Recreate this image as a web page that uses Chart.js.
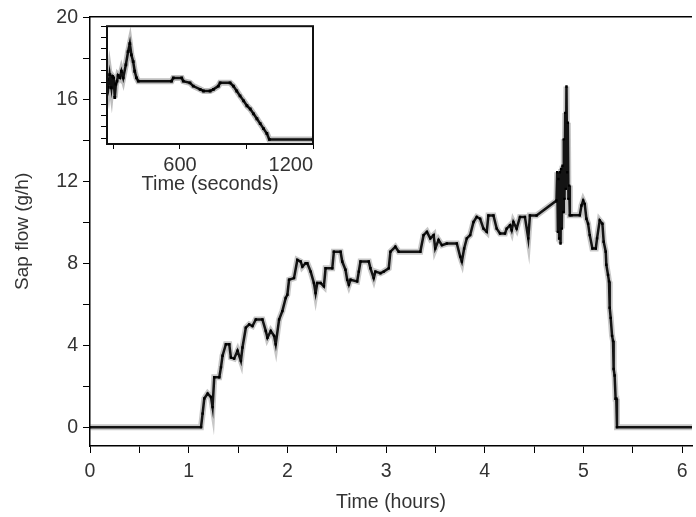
<!DOCTYPE html>
<html>
<head>
<meta charset="utf-8">
<script src="https://cdn.jsdelivr.net/npm/chart.js@4.4.0/dist/chart.umd.min.js"></script>
<style>
body { margin: 0; background: #fff; }
#wrap { position: relative; width: 696px; height: 517px; }
#mainChart { position: absolute; left: 0; top: 0; }
#insetChart { position: absolute; left: 96px; top: 16px; }
</style>
</head>
<body>
<div id="wrap">
<canvas id="mainChart" width="696" height="517"></canvas>
<canvas id="insetChart" width="240" height="190"></canvas>
</div>
<script>
// main trace
const hours = [0, 1.125, 1.141, 1.158, 1.192, 1.226, 1.242, 1.259, 1.310, 1.327, 1.343, 1.377, 1.411, 1.428, 1.461, 1.495,
  1.529, 1.545, 1.579, 1.613, 1.646, 1.680, 1.747, 1.781, 1.798, 1.832, 1.865, 1.882, 1.916, 1.949, 1.983, 2.000,
  2.017, 2.067, 2.101, 2.135, 2.152, 2.185, 2.202, 2.236, 2.269, 2.286, 2.303, 2.337, 2.370, 2.387, 2.455, 2.471,
  2.539, 2.556, 2.589, 2.606, 2.623, 2.640, 2.707, 2.724, 2.741, 2.825, 2.842, 2.875, 2.892, 2.943, 2.976, 3.027,
  3.044, 3.094, 3.128, 3.347, 3.380, 3.414, 3.448, 3.482, 3.498, 3.532, 3.566, 3.616, 3.717, 3.751, 3.768, 3.791,
  3.818, 3.852, 3.886, 3.919, 3.953, 3.987, 4.020, 4.037, 4.088, 4.121, 4.155, 4.205, 4.222, 4.256, 4.273, 4.290,
  4.323, 4.357, 4.407, 4.441, 4.458, 4.525, 4.727, 4.734, 4.741, 4.747, 4.754, 4.761, 4.768, 4.774, 4.781, 4.788,
  4.795, 4.801, 4.808, 4.815, 4.821, 4.828, 4.835, 4.842, 4.848, 4.855, 4.862, 4.879, 4.963, 4.980, 4.997, 5.013,
  5.030, 5.047, 5.064, 5.091, 5.125, 5.138, 5.165, 5.192, 5.205, 5.226, 5.232, 5.249, 5.259, 5.266, 5.276, 5.290,
  5.300, 5.306, 5.316, 5.326, 5.333, 5.340, 6.2]
const sapFlow = [0, 0, 0.66, 1.40, 1.64, 1.47, 0.98, 2.44, 2.44, 2.92, 3.49, 4.05, 4.05, 3.40, 3.35, 3.73,
  3.24, 3.89, 4.86, 5.02, 4.94, 5.26, 5.26, 4.70, 4.37, 4.70, 4.46, 4.05, 5.26, 5.67, 6.31, 6.47,
  7.20, 7.28, 8.17, 8.09, 7.84, 8.01, 8.01, 7.60, 7.04, 6.55, 7.04, 7.04, 6.88, 7.76, 7.76, 8.57,
  8.57, 8.09, 7.69, 7.20, 6.96, 7.20, 7.12, 7.60, 8.09, 8.09, 7.76, 7.28, 7.60, 7.52, 7.60, 7.76,
  8.57, 8.81, 8.57, 8.57, 9.38, 9.54, 9.22, 9.38, 8.73, 9.14, 8.89, 8.97, 8.97, 8.33, 8.09, 8.73,
  9.22, 9.38, 10.02, 10.27, 10.18, 9.70, 9.54, 10.34, 10.34, 9.70, 9.46, 9.46, 9.70, 9.86, 9.62, 10.02,
  9.70, 10.27, 10.27, 9.22, 10.34, 10.34, 11.07, 12.45, 9.54, 12.12, 9.22, 12.45, 8.97, 12.61, 9.70, 12.77,
  10.51, 14.06, 11.15, 15.35, 11.64, 16.64, 12.45, 14.87, 11.15, 11.80, 10.35, 10.35, 10.35, 10.83, 11.07, 10.90,
  10.18, 9.94, 9.38, 8.73, 8.73, 9.22, 10.10, 9.94, 9.06, 8.57, 7.93, 7.44, 7.12, 5.83, 5.34, 4.46,
  4.21, 2.84, 2.52, 1.39, 1.39, 0, 0]

// inset trace (its y axis has no labels, values in tick steps)
const insetSeconds = [271, 277, 283, 291, 296, 301, 306, 311, 316, 321, 329, 336, 344, 356, 366, 374, 381, 389, 396, 404,
  412, 562, 570, 608, 615, 645, 660, 691, 706, 736, 751, 773, 781, 826, 841, 856, 871, 887, 902, 917,
  932, 947, 962, 977, 992, 1003, 1200]
const insetFlow = [5.23, 4.53, 5.67, 4.50, 5.51, 5.38, 3.63, 4.82, 5.09, 5.60, 5.41, 5.97, 5.38, 6.55, 7.72, 8.45, 7.43, 6.84, 5.97, 5.38,
  5.09, 5.09, 5.38, 5.38, 5.09, 4.94, 4.65, 4.36, 4.21, 4.21, 4.36, 4.65, 4.94, 4.94, 4.65, 4.21, 3.77, 3.33, 2.89, 2.60,
  2.17, 1.73, 1.29, 0.84, 0.41, -0.12, -0.12]

const hourLabels = [0, 1, 2, 3, 4, 5, 6]
const flowLabels = [0, 4, 8, 12, 16, 20]
const secondTicks = [300, 600, 900, 1200]
const secondLabels = [600, 1200]

const textColor = '#333'
const fontFamily = "'Liberation Sans', Arial, sans-serif"
const axisFont = {family: fontFamily, size: 19.5}
const insetFont = {family: fontFamily, size: 20}

const mainPoints = hours.map((h, i) => ({x: h, y: sapFlow[i]}))
const insetPoints = insetSeconds.map((s, i) => ({x: s, y: insetFlow[i]}))

// line along the top of the plot area / box round the inset
const topLine = {
  id: 'topLine',
  afterDraw(chart) {
    const {ctx, chartArea} = chart
    ctx.save()
    ctx.strokeStyle = '#000'
    ctx.lineWidth = 1.5
    ctx.beginPath()
    ctx.moveTo(chartArea.left, chartArea.top)
    ctx.lineTo(chartArea.right, chartArea.top)
    ctx.stroke()
    ctx.restore()
  }
}
const frame = {
  id: 'frame',
  afterDraw(chart) {
    const {ctx, chartArea} = chart
    ctx.save()
    ctx.strokeStyle = '#111'
    ctx.lineWidth = 2
    ctx.strokeRect(chartArea.left, chartArea.top, chartArea.right - chartArea.left, chartArea.bottom - chartArea.top)
    ctx.restore()
  }
}

new Chart(document.getElementById('mainChart'), {
  type: 'line',
  data: {
    datasets: [
      {data: mainPoints, borderColor: 'rgba(70,70,70,0.3)', borderWidth: 6, pointRadius: 0, order: 2},
      {data: mainPoints, borderColor: '#141414', borderWidth: 2.5, pointStyle: 'rect', pointRadius: 1.7,
        pointBackgroundColor: '#000', pointBorderWidth: 0, order: 1}
    ]
  },
  options: {
    responsive: false,
    animation: false,
    devicePixelRatio: 1,
    layout: {padding: {top: 13, right: 0, bottom: 0, left: 0}},
    plugins: {legend: {display: false}, tooltip: {enabled: false}},
    scales: {
      x: {
        type: 'linear', position: 'bottom', min: 0, max: 6.1,
        afterFit: s => { s.height = 71 },
        border: {color: '#000', width: 1.5},
        grid: {drawOnChartArea: false, color: '#000', tickLength: 7},
        ticks: {stepSize: 0.5, autoSkip: false, includeBounds: false, maxRotation: 0, padding: 7, color: textColor, font: axisFont,
          callback: v => hourLabels.includes(v) ? String(v) : ''},
        title: {display: true, text: 'Time (hours)', color: textColor, font: axisFont, padding: {top: 0, bottom: 3}}
      },
      y: {
        type: 'linear', position: 'left', min: -0.92, max: 20.05,
        afterFit: s => { s.width = 90 },
        border: {color: '#000', width: 1.5},
        grid: {drawOnChartArea: false, color: '#000', tickLength: 7},
        ticks: {stepSize: 2, autoSkip: false, includeBounds: false, padding: 5, color: textColor, font: axisFont,
          callback: v => flowLabels.includes(v) ? String(v) : ''},
        title: {display: true, text: 'Sap flow (g/h)', color: textColor, font: {family: fontFamily, size: 19}, padding: {top: 11, bottom: 0}}
      }
    }
  },
  plugins: [topLine]
})

new Chart(document.getElementById('insetChart'), {
  type: 'line',
  data: {
    datasets: [
      {data: insetPoints, borderColor: 'rgba(70,70,70,0.35)', borderWidth: 6, pointRadius: 0, order: 2},
      {data: insetPoints, borderColor: '#111', borderWidth: 2.5, pointStyle: 'rect', pointRadius: 2,
        pointBackgroundColor: '#000', pointBorderWidth: 0, order: 1}
    ]
  },
  options: {
    responsive: false,
    animation: false,
    devicePixelRatio: 1,
    layout: {padding: {top: 8, right: 23, bottom: 0, left: 0}},
    plugins: {legend: {display: false}, tooltip: {enabled: false}},
    scales: {
      x: {
        type: 'linear', min: 271, max: 1200,
        afterFit: s => { s.height = 62 },
        afterBuildTicks: s => { s.ticks = secondTicks.map(v => ({value: v})) },
        border: {display: false},
        grid: {drawOnChartArea: false, color: '#000', tickLength: 5},
        ticks: {autoSkip: false, maxRotation: 0, align: 'inner', padding: 4, color: textColor, font: insetFont,
          callback: v => secondLabels.includes(v) ? String(v) : ''},
        title: {display: true, text: 'Time (seconds)', color: textColor, font: insetFont, padding: {top: 0, bottom: 10}}
      },
      y: {
        type: 'linear', min: -0.53, max: 10,
        afterFit: s => { s.width = 11 },
        border: {display: false},
        grid: {drawOnChartArea: false, color: '#000', tickLength: 6},
        ticks: {stepSize: 1, autoSkip: false, includeBounds: false, callback: () => ''}
      }
    }
  },
  plugins: [frame]
})
</script>
</body>
</html>
